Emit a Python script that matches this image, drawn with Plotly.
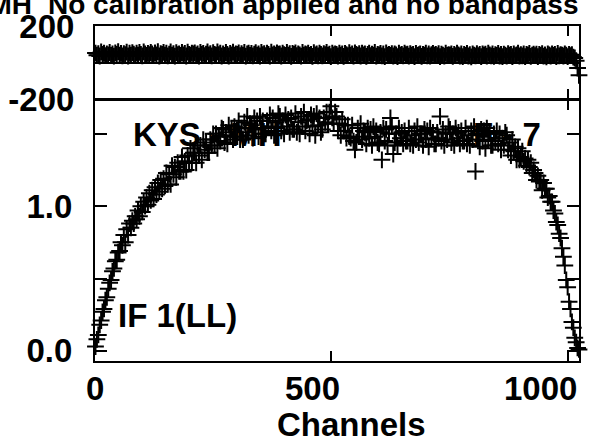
import plotly.graph_objects as go

# ---------------- data ----------------
channels = list(range(1, 1025, 3))  # every third channel, 1..1024

# amplitude in units of 0.01
amp_centi = [
    3, 8, 11, 18, 21, 27, 29, 35, 37, 43,
    47, 49, 55, 57, 62, 63, 68, 69, 75, 73,
    80, 75, 84, 80, 88, 85, 90, 88, 93, 91,
    97, 93, 100, 96, 103, 100, 106, 101, 109, 104,
    111, 105, 113, 108, 116, 110, 118, 112, 119, 114,
    123, 115, 122, 115, 128, 122, 127, 120, 130, 124,
    124, 134, 124, 131, 125, 135, 130, 140, 130, 137,
    137, 130, 142, 135, 142, 132, 146, 139, 144, 137,
    137, 146, 142, 150, 142, 150, 140, 148, 145, 154,
    153, 144, 151, 143, 156, 149, 153, 146, 155, 148,
    148, 159, 146, 154, 146, 158, 151, 162, 149, 157,
    156, 147, 161, 153, 159, 148, 162, 154, 159, 150,
    150, 159, 155, 163, 152, 161, 149, 158, 154, 164,
    162, 152, 159, 150, 163, 155, 160, 151, 161, 153,
    153, 164, 151, 158, 150, 162, 155, 165, 152, 159,
    160, 150, 163, 155, 162, 149, 164, 156, 161, 151,
    153, 161, 158, 165, 157, 165, 169, 161, 157, 165,
    162, 152, 157, 149, 160, 152, 156, 147, 156, 148,
    147, 156, 145, 139, 144, 154, 148, 157, 146, 152,
    151, 143, 154, 147, 153, 142, 155, 148, 152, 144,
    143, 151, 132, 154, 145, 153, 142, 150, 161, 155,
    136, 144, 150, 142, 154, 147, 151, 143, 152, 145,
    145, 154, 143, 149, 142, 152, 146, 155, 144, 150,
    150, 142, 153, 146, 152, 141, 154, 147, 151, 143,
    143, 151, 147, 162, 145, 153, 142, 150, 146, 155,
    153, 144, 150, 142, 154, 147, 151, 143, 152, 145,
    145, 154, 143, 149, 142, 152, 146, 155, 124, 150,
    150, 141, 153, 145, 152, 140, 154, 146, 151, 142,
    142, 150, 145, 152, 143, 150, 139, 147, 142, 151,
    149, 139, 144, 135, 146, 138, 141, 132, 140, 132,
    134, 138, 131, 133, 128, 132, 127, 130, 123, 125,
    123, 118, 121, 117, 118, 111, 116, 112, 112, 106,
    107, 103, 103, 97, 95, 89, 87, 81, 78, 71,
    65, 59, 49, 44, 34, 29, 20, 16, 9, 6,
    2, 1,
]

# phase in degrees
phase_deg = [
    52, 40, 49, 36, 58, 44, 51, 38, 47, 42,
    55, 39, 48, 35, 53, 45, 60, 41, 50, 37,
    49, 43, 57, 36, 51, 40, 54, 46, 38, 52,
    41, 56, 44, 37, 59, 48, 39, 50, 43, 55,
    47, 38, 53, 42, 60, 36, 49, 44, 56, 40,
    51, 37, 46, 58, 41, 49, 35, 54, 43, 48,
    39, 55, 42, 50, 36, 57, 45, 40, 52, 47,
    53, 41, 48, 35, 56, 44, 50, 38, 46, 59,
    42, 49, 37, 54, 45, 40, 58, 43, 51, 36,
    48, 39, 55, 44, 36, 50, 42, 57, 40, 47,
    45, 53, 38, 49, 41, 56, 35, 47, 52, 39,
    50, 37, 46, 54, 40, 48, 36, 55, 43, 49,
    38, 51, 44, 35, 57, 42, 48, 40, 53, 46,
    47, 36, 52, 43, 39, 55, 41, 49, 34, 50,
    44, 53, 38, 48, 42, 35, 56, 40, 47, 43,
    51, 39, 45, 34, 54, 42, 48, 37, 52, 44,
    37, 49, 43, 55, 40, 46, 33, 51, 42, 47,
    45, 36, 52, 41, 48, 34, 50, 43, 38, 54,
    41, 47, 35, 53, 44, 39, 49, 36, 51, 42,
    48, 34, 44, 52, 38, 46, 40, 55, 35, 45,
    42, 50, 37, 47, 33, 53, 41, 45, 39, 49,
    36, 47, 42, 33, 51, 40, 45, 37, 52, 43,
    46, 35, 49, 40, 44, 32, 50, 39, 43, 47,
    34, 45, 41, 52, 37, 48, 36, 43, 50, 40,
    44, 38, 49, 33, 46, 41, 35, 51, 39, 43,
    40, 47, 34, 45, 38, 52, 42, 36, 48, 33,
    45, 39, 50, 36, 43, 31, 47, 41, 37, 49,
    38, 44, 33, 48, 40, 46, 35, 51, 42, 37,
    47, 34, 43, 39, 50, 36, 44, 32, 46, 41,
    35, 49, 40, 45, 33, 47, 38, 42, 51, 36,
    43, 37, 48, 32, 45, 40, 50, 34, 41, 46,
    38, 46, 33, 44, 39, 49, 35, 42, 31, 47,
    42, 36, 48, 39, 45, 33, 50, 37, 43, 40,
    36, 47, 40, 33, 45, 38, 43, 30, 25, 10,
    -30, -70,
]

amplitude = [v / 100 for v in amp_centi]

x_ticks = [0, 500, 1000]
x_tick_labels = ["0", "500", "1000"]
amp_ticks = [0.0, 0.5, 1.0, 1.5]
amp_tick_labels = ["0.0", "", "1.0", ""]
phase_ticks = [-200, 200]
phase_tick_labels = ["-200", "200"]

title_left = "KYS - MH"
title_right = "No calibration applied and no bandpass"
panel_label_top = "KYS - MH"
panel_label_top_right = "F - 7"
panel_label_bottom = "IF 1(LL)"
x_title = "Channels"

# ---------------- figure ----------------
FONT = dict(family="Liberation Sans, Arial, sans-serif", size=33, color="black", weight="bold")
TITLE_FONT = dict(FONT, size=28)
MARK = dict(symbol="cross-thin", size=12, color="black", line=dict(color="black", width=2))

fig = go.Figure()

fig.add_trace(go.Scatter(
    x=channels, y=amplitude, mode="markers", xaxis="x", yaxis="y", marker=MARK,
    cliponaxis=False, showlegend=False, hoverinfo="skip",
))
fig.add_trace(go.Scatter(
    x=channels, y=phase_deg, mode="markers", xaxis="x2", yaxis="y2", marker=MARK,
    cliponaxis=False, showlegend=False, hoverinfo="skip",
))

axis_common = dict(
    showline=True, linecolor="black", linewidth=2, mirror="ticks",
    showgrid=False, zeroline=False, ticks="inside", tickcolor="black", tickwidth=1.5,
)

fig.update_layout(
    width=589, height=439,
    margin=dict(l=94, r=8, t=22, b=78),
    paper_bgcolor="white", plot_bgcolor="white",
    font=FONT,
    xaxis=dict(domain=[0, 1], anchor="y", range=[0, 1024], tickvals=x_ticks,
               showticklabels=False, ticklen=10, **axis_common),
    yaxis=dict(domain=[0, 0.7788], anchor="x", range=[-0.070, 1.733],
               tickvals=amp_ticks, ticktext=amp_tick_labels, ticklen=12,
               ticklabelstandoff=14, tickfont=FONT, **axis_common),
    xaxis2=dict(domain=[0, 1], anchor="y2", range=[0, 1024], tickvals=x_ticks, matches="x",
                showticklabels=False, ticklen=10, **axis_common),
    yaxis2=dict(domain=[0.7817, 1], anchor="x2", range=[-200, 200],
                tickvals=phase_ticks, ticktext=phase_tick_labels, ticklen=0,
                ticklabelstandoff=12, tickfont=FONT,
                showline=True, linecolor="black", linewidth=2, mirror=True,
                showgrid=False, zeroline=True, zerolinecolor="black", zerolinewidth=1.5),
)

annotations = []
for tv, tl in zip(x_ticks, x_tick_labels):
    annotations.append(dict(x=tv, xref="x", y=-0.081, yref="paper", text=tl, showarrow=False,
                            xanchor="right", yanchor="middle", xshift=11, font=FONT))
annotations.append(dict(x=0.53, xref="paper", y=-0.190, yref="paper", text=x_title,
                        showarrow=False, xanchor="center", yanchor="middle", font=FONT))
annotations.append(dict(x=-0.1006, xref="paper", y=1.0634, yref="paper", text=title_right,
                        showarrow=False, xanchor="left", yanchor="middle", font=TITLE_FONT))
annotations.append(dict(x=-0.127, xref="paper", y=1.0634, yref="paper", text=title_left,
                        showarrow=False, xanchor="right", yanchor="middle", font=TITLE_FONT))
annotations.append(dict(x=0.074, xref="paper", y=0.6755, yref="paper", text=panel_label_top,
                        showarrow=False, xanchor="left", yanchor="middle", font=FONT))
annotations.append(dict(x=0.925, xref="paper", y=0.6755, yref="paper", text=panel_label_top_right,
                        showarrow=False, xanchor="right", yanchor="middle", font=FONT))
annotations.append(dict(x=0.043, xref="paper", y=0.135, yref="paper", text=panel_label_bottom,
                        showarrow=False, xanchor="left", yanchor="middle", font=FONT))
fig.update_layout(annotations=annotations)

fig.write_html("out.html", config={"displayModeBar": False},
               post_script="document.body.style.margin='0px';")
